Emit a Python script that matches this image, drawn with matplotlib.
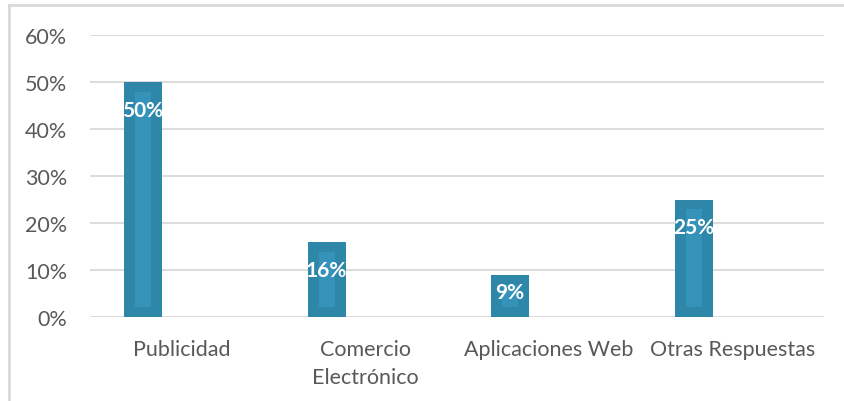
import numpy as np
import matplotlib
matplotlib.use('Agg')
import matplotlib.pyplot as plt
from matplotlib.patches import Rectangle
from matplotlib.lines import Line2D

#
# Data
#
categorias = ['Publicidad', 'Comercio\nElectrónico', 'Aplicaciones Web', 'Otras Respuestas']
valores    = [50, 16, 9, 25]
yticks     = [0, 10, 20, 30, 40, 50, 60]

#
# Style
#
plt.rcParams['font.family'] = ['Lato', 'DejaVu Sans']
gris_texto = '#595959'
gris_linea = '#D9D9D9'
azul       = '#2E86A8'
azul_claro = '#3593B9'

fig = plt.figure(figsize=(8.44, 4.02), dpi=100)
W, H = 844, 402
ax = fig.add_axes([90/W, (H-318)/H, (824-90)/W, (318-36)/H])

# Frame round the chart (top and left edge visible)
fig.add_artist(Line2D([8.5/W, 8.5/W], [0, 1-6/H], color=gris_linea, lw=2.0, transform=fig.transFigure))
fig.add_artist(Line2D([8.5/W, 1], [1-6/H, 1-6/H], color=gris_linea, lw=2.0, transform=fig.transFigure))

x = np.arange(len(categorias))
offset = -0.211
ancho  = 0.207
ax.bar(x + offset, valores, width=ancho, color=azul, zorder=3)

# lighter inner stripe of each bar
inset = 2.1
for xi, v in zip(x, valores):
    h = max(v - 2*inset, 0)
    ax.add_patch(Rectangle((xi + offset - 0.0435, inset), 0.087, h,
                           facecolor=azul_claro, edgecolor='none', zorder=4))

# value labels, inside end
for xi, v in zip(x, valores):
    dy = -min(28, v*4.7/2 - 4)
    ax.annotate('%.0f%%' % v, xy=(xi + offset, v), xytext=(0, dy*0.72),
                textcoords='offset points', ha='center', va='center',
                color='white', fontsize=15, fontweight='bold', zorder=5)

ax.set_xlim(-0.5, 3.5)
ax.set_ylim(0, 60)
ax.set_yticks(yticks)
ax.set_yticklabels(['%d%%' % t for t in yticks])
ax.set_xticks(x)
ax.set_xticklabels(categorias, linespacing=1.5)
ax.tick_params(axis='both', length=0, labelsize=15.5, colors=gris_texto)
ax.tick_params(axis='y', pad=16.5)
ax.tick_params(axis='x', pad=15.5)
ax.yaxis.grid(True, color=gris_linea, lw=1.3, zorder=0)
for s in ax.spines.values():
    s.set_visible(False)

fig.savefig('out.png', dpi=100)
